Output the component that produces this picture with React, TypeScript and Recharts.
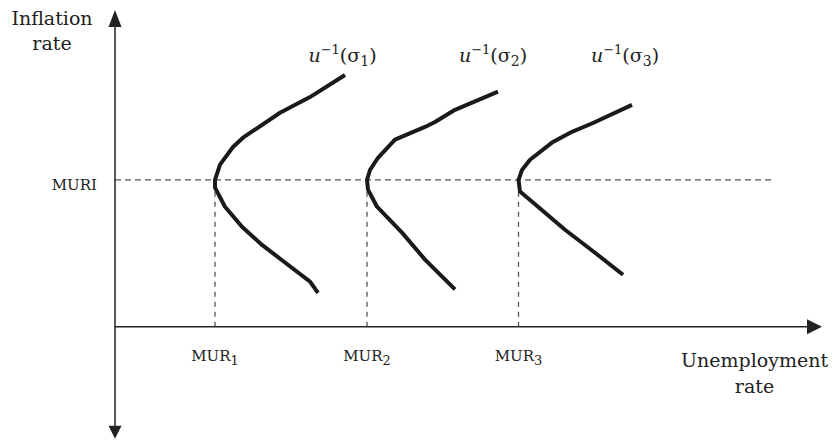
import React from "react";
import { LineChart, Line, XAxis, YAxis, ReferenceLine, ReferenceDot } from "recharts";

// Curve data (unemployment rate x, inflation rate y), in chart units
const curve1X = [4.6, 3.9, 3.3, 2.56, 2.36, 2.1, 2.0, 2.0, 2.2, 2.54, 2.94, 3.4, 3.9, 4.06];
const curve1Y = [5.14, 4.69, 4.37, 3.86, 3.67, 3.31, 3.0, 2.84, 2.45, 2.04, 1.67, 1.31, 0.92, 0.69];
const curve2X = [7.66, 6.8, 6.4, 6.2, 5.6, 5.26, 5.1, 5.04, 5.06, 5.24, 5.74, 6.2, 6.8];
const curve2Y = [4.8, 4.43, 4.18, 4.08, 3.82, 3.45, 3.2, 3.0, 2.8, 2.45, 1.92, 1.37, 0.76];
const curve3X = [10.34, 9.56, 9.14, 8.74, 8.3, 8.14, 8.07, 8.1, 8.46, 9.0, 9.6, 10.16];
const curve3Y = [4.53, 4.16, 3.98, 3.76, 3.41, 3.2, 3.0, 2.76, 2.45, 1.98, 1.51, 1.06];

const murValues = [2.0, 5.04, 8.07];
const murSubs = ["1", "2", "3"];
const muriValue = 3;
const curveLabels = ["1", "2", "3"];
const curveLabelX = [4.55, 7.56, 10.2];
const curveLabelY = 5.41;

const X_DOMAIN: [number, number] = [0, 14.3];
const Y_DOMAIN: [number, number] = [-2.3, 6.5];
const X_ARROW_TIP = 14.14;
const Y_ARROW_TOP = 6.47;
const Y_ARROW_BOTTOM = -2.29;
const DASH_END = 13.16;

const toPts = (xs: number[], ys: number[]) => xs.map((x, i) => ({ x, y: ys[i] }));
const curves = [toPts(curve1X, curve1Y), toPts(curve2X, curve2Y), toPts(curve3X, curve3Y)];

const FONT = "'DejaVu Serif', serif";
const INK = "#222";

const upArrow = (p: any) => (
  <polygon points={`${p.cx},${p.cy} ${p.cx - 6.5},${p.cy + 17} ${p.cx + 6.5},${p.cy + 17}`} fill={INK} />
);
const downArrow = (p: any) => (
  <polygon points={`${p.cx},${p.cy} ${p.cx - 6.5},${p.cy - 13} ${p.cx + 6.5},${p.cy - 13}`} fill={INK} />
);
const rightArrow = (p: any) => (
  <polygon points={`${p.cx},${p.cy} ${p.cx - 15},${p.cy - 7.5} ${p.cx - 15},${p.cy + 7.5}`} fill={INK} />
);

const textShape = (lines: string[], size: number, anchor: "start" | "middle" | "end", lineGap = 25) => (p: any) => (
  <text x={p.cx} y={p.cy} textAnchor={anchor} fontFamily={FONT} fontSize={size} fill={INK}>
    {lines.map((l, i) => (
      <tspan key={i} x={p.cx} dy={i === 0 ? 0 : lineGap}>
        {l}
      </tspan>
    ))}
  </text>
);

const murShape = (sub: string) => (p: any) => (
  <text x={p.cx} y={p.cy} textAnchor="middle" fontFamily={FONT} fontSize={15} fill={INK}>
    MUR
    <tspan dy={4} fontSize={13}>{sub}</tspan>
  </text>
);

const curveLabelShape = (sub: string) => (p: any) => (
  <text x={p.cx} y={p.cy} textAnchor="middle" fontFamily={FONT} fontSize={19} fill={INK}>
    <tspan fontStyle="italic">u</tspan>
    <tspan dy={-8} fontSize={13}>−1</tspan>
    <tspan dy={8}>(σ</tspan>
    <tspan dy={4} fontSize={14}>{sub}</tspan>
    <tspan dy={-4}>)</tspan>
  </text>
);

export default function App() {
  return (
    <div style={{ position: "absolute", left: 0, top: 0 }}>
      <LineChart width={837} height={441} margin={{ top: 8.5, right: 7, bottom: 1.8, left: 115 }}>
        <XAxis type="number" dataKey="x" domain={X_DOMAIN} hide allowDataOverflow />
        <YAxis type="number" dataKey="y" domain={Y_DOMAIN} hide allowDataOverflow />

        {/* dashed guides */}
        <ReferenceLine
          segment={[{ x: 0, y: muriValue }, { x: DASH_END, y: muriValue }]}
          stroke="#555"
          strokeWidth={1.3}
          strokeDasharray="6 4"
          ifOverflow="visible"
        />
        {murValues.map((m, i) => (
          <ReferenceLine
            key={"v" + i}
            segment={[{ x: m, y: 0 }, { x: m, y: muriValue }]}
            stroke="#555"
            strokeWidth={1.3}
            strokeDasharray="5 5"
            ifOverflow="visible"
          />
        ))}

        {/* axes */}
        <ReferenceLine
          segment={[{ x: 0, y: Y_ARROW_BOTTOM + 0.2 }, { x: 0, y: Y_ARROW_TOP - 0.2 }]}
          stroke={INK}
          strokeWidth={1.5}
          ifOverflow="visible"
        />
        <ReferenceLine
          segment={[{ x: 0, y: 0 }, { x: X_ARROW_TIP - 0.2, y: 0 }]}
          stroke={INK}
          strokeWidth={1.5}
          ifOverflow="visible"
        />
        <ReferenceDot x={0} y={Y_ARROW_TOP} r={0} shape={upArrow} ifOverflow="visible" />
        <ReferenceDot x={0} y={Y_ARROW_BOTTOM} r={0} shape={downArrow} ifOverflow="visible" />
        <ReferenceDot x={X_ARROW_TIP} y={0} r={0} shape={rightArrow} ifOverflow="visible" />

        {/* curves */}
        {curves.map((c, i) => (
          <Line
            key={"c" + i}
            data={c}
            dataKey="y"
            type="linear"
            stroke="#1a1a1a"
            strokeWidth={4}
            dot={false}
            activeDot={false}
            isAnimationActive={false}
            strokeLinejoin="round"
          />
        ))}

        {/* labels */}
        <ReferenceDot x={-1.26} y={6.16} r={0} shape={textShape(["Inflation", "rate"], 19, "middle")} ifOverflow="visible" />
        <ReferenceDot x={12.79} y={-0.82} r={0} shape={textShape(["Unemployment", "rate"], 19, "middle", 26)} ifOverflow="visible" />
        <ReferenceDot
          x={-0.36}
          y={muriValue - 0.2}
          r={0}
          shape={(p: any) => (
            <text x={p.cx} y={p.cy} textAnchor="end" fontFamily={FONT} fontSize={15} fill={INK}>
              MURI
            </text>
          )}
          ifOverflow="visible"
        />
        {murValues.map((m, i) => (
          <ReferenceDot key={"m" + i} x={m} y={-0.71} r={0} shape={murShape(murSubs[i])} ifOverflow="visible" />
        ))}
        {curveLabels.map((s, i) => (
          <ReferenceDot key={"l" + i} x={curveLabelX[i]} y={curveLabelY} r={0} shape={curveLabelShape(s)} ifOverflow="visible" />
        ))}
      </LineChart>
    </div>
  );
}
